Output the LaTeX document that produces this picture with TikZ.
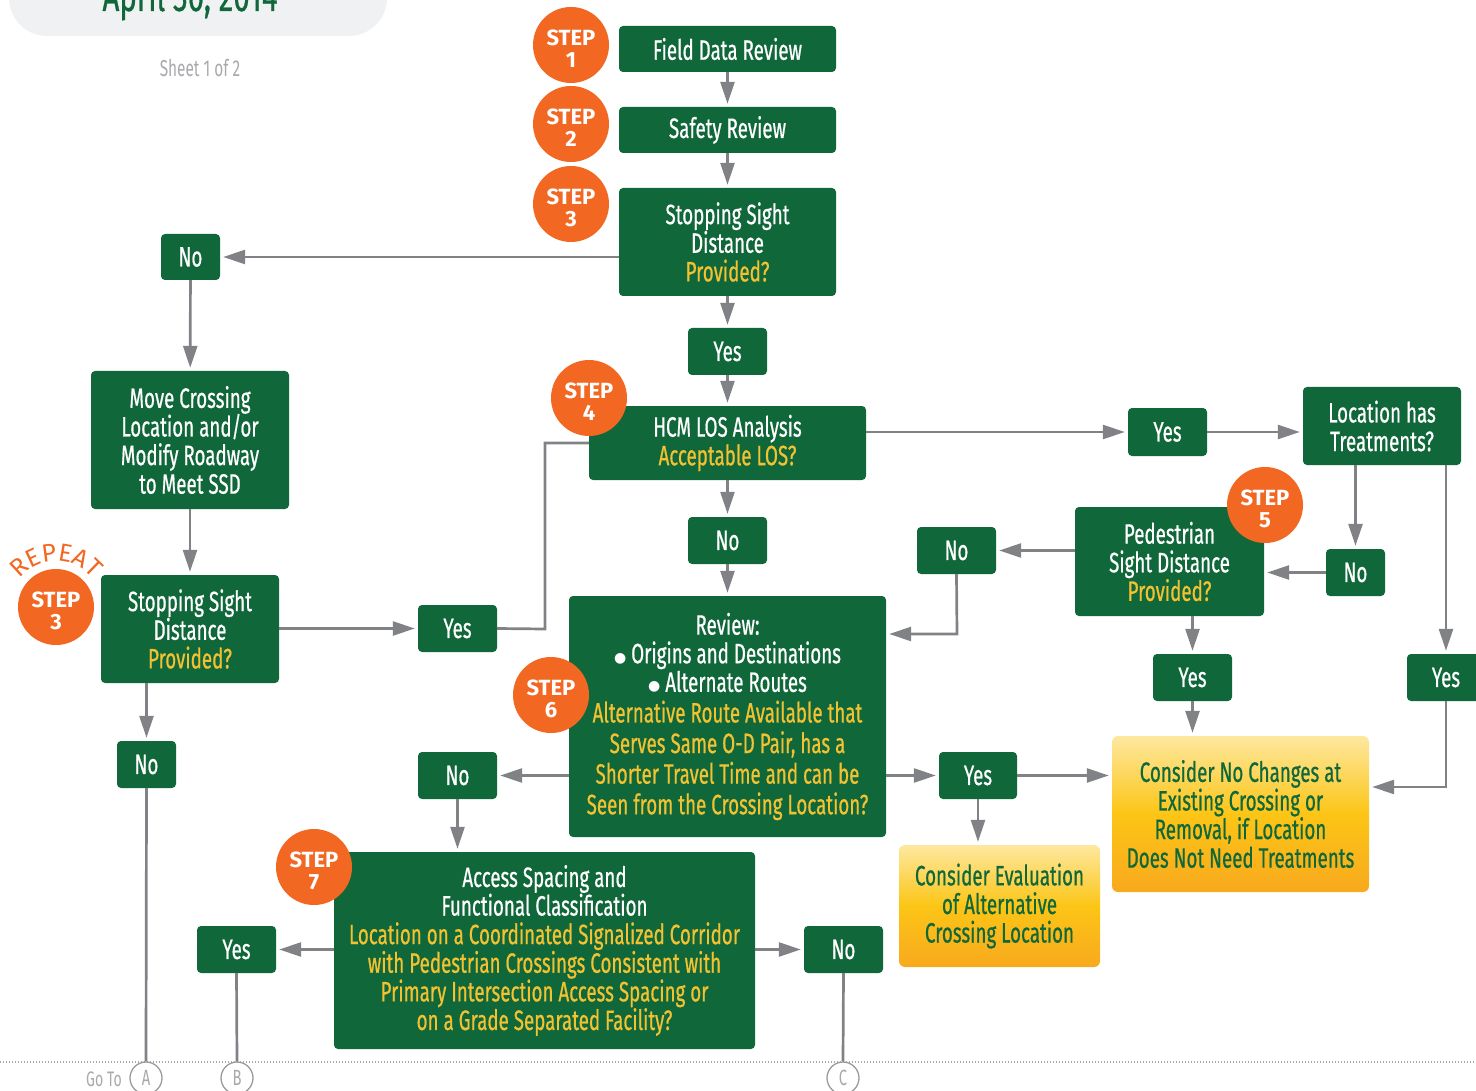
\documentclass[tikz,border=0pt]{standalone}
\usepackage{fontspec}
\setmainfont{Fira Sans}[FakeStretch=0.67, FakeBold=0.6]
\newfontfamily\stepfont{Fira Sans}
\newfontfamily\plainfont{Fira Sans}[FakeStretch=0.67]
\newfontfamily\dejavu{DejaVu Sans}
\usetikzlibrary{arrows.meta,shapes.geometric,decorations.text,calc}
\definecolor{dgreen}{HTML}{10673A}
\definecolor{orng}{HTML}{F26722}
\definecolor{ytext}{HTML}{F2C232}
\definecolor{arr}{HTML}{808285}
\definecolor{hdr}{HTML}{F0F1F3}
\definecolor{gtxt}{HTML}{A7A9AC}
\definecolor{ylight}{HTML}{FDE8A0}
\definecolor{ymid}{HTML}{FCC516}
\definecolor{ydark}{HTML}{F8A91E}
\newcommand\Y[1]{\textcolor{ytext}{#1}}
\newcommand\bt{\fontsize{28pt}{28.6pt}\selectfont}
\newcommand\bul{{\dejavu\fontsize{14pt}{0pt}\selectfont\raisebox{1pt}{●}}}
\newcommand\stepmark[3]{\node[stepc] (#1) at (#2) {}; \node[steptxt] (#1t) at ($(#2)+(0,-4)$) {STEP\\#3};}
\begin{document}
\begin{tikzpicture}[x=1pt,y=1pt,
 box/.style={fill=dgreen, rounded corners=4pt, text=white, align=center, font=\bt, inner sep=0pt},
 ybox/.style={top color=ylight, bottom color=ydark, middle color=ymid, rounded corners=6pt, text=dgreen, align=center, font=\bt, inner sep=0pt},
 stepc/.style={circle, fill=orng, minimum size=76pt, inner sep=0pt},
 steptxt/.style={inner sep=0pt, text=white, align=center, font=\stepfont\bfseries\fontsize{22pt}{22pt}\selectfont},
 arw/.style={draw=arr, line width=2.7pt, -{Triangle[length=22pt,width=14pt]}, shorten >=3pt},
 ln/.style={draw=arr, line width=2.7pt},
 goto/.style={circle, draw=arr!80, line width=1.3pt, minimum size=32pt, inner sep=0pt, text=gtxt, font=\plainfont\fontsize{22pt}{22pt}\selectfont}
]
\useasboundingbox (0,0) rectangle (1476,-1091);
\clip (0,0) rectangle (1476,-1091);
% header
\fill[hdr, rounded corners=38pt] (9,80) rectangle (387,-36);
\node[anchor=base, text=dgreen, font=\fontsize{44pt}{44pt}\selectfont, inner sep=0pt] (date) at (190,-11) {April 30, 2014};
\node[text=gtxt, font=\plainfont\fontsize{23pt}{23pt}\selectfont, inner sep=0pt] (sheet) at (200,-68) {Sheet 1 of 2};
% boxes
\node[box, minimum width=217pt, minimum height=46pt] (fdr) at (727.5,-49) {Field Data Review};
\node[box, minimum width=217pt, minimum height=46pt] (sr) at (727.5,-130) {Safety Review};
\node[box, minimum width=217pt, minimum height=108pt] (ssd1) at (727.5,-242) {Stopping Sight\\Distance\\\Y{Provided?}};
\node[box, minimum width=59pt, minimum height=46pt] (no1) at (190.5,-257) {No};
\node[box, minimum width=198pt, minimum height=138pt] (mv) at (190,-440) {Move Crossing\\Location and/or\\Modify Roadway\\to Meet SSD};
\node[box, minimum width=178pt, minimum height=108pt] (ssd2) at (190,-629) {Stopping Sight\\Distance\\\Y{Provided?}};
\node[box, minimum width=59pt, minimum height=47pt] (nlb) at (146.5,-764.5) {No};
\node[box, minimum width=79pt, minimum height=47pt] (yml) at (457.5,-628.5) {Yes};
\node[box, minimum width=79pt, minimum height=47pt] (y1) at (727.5,-351.5) {Yes};
\node[box, minimum width=277pt, minimum height=74pt] (hcm) at (727.5,-443) {HCM LOS Analysis\\\Y{Acceptable LOS?}};
\node[box, minimum width=79pt, minimum height=47pt] (nu) at (727.5,-540.5) {No};
\node[box, minimum width=317pt, minimum height=241pt] (rev) at (727.5,-716.5) {Review:\\\bul\ Origins and Destinations\\\bul\ Alternate Routes\\[2pt]\Y{Alternative Route Available that}\\[2pt]\Y{Serves Same O-D Pair, has a}\\[2pt]\Y{Shorter Travel Time and can be}\\[2pt]\Y{Seen from the Crossing Location?}};
\node[box, minimum width=79pt, minimum height=48pt] (yrt) at (1167.5,-432) {Yes};
\node[box, minimum width=158pt, minimum height=78pt] (loc) at (1382,-426) {Location has\\Treatments?};
\node[box, minimum width=189pt, minimum height=109pt] (ped) at (1169.5,-561.5) {Pedestrian\\Sight Distance\\\Y{Provided?}};
\node[box, minimum width=79pt, minimum height=47pt] (nol) at (956.5,-550.5) {No};
\node[box, minimum width=59pt, minimum height=47pt] (nr) at (1355.5,-572.5) {No};
\node[box, minimum width=79pt, minimum height=47pt] (yu) at (1192.5,-677.5) {Yes};
\node[box, minimum width=78pt, minimum height=47pt] (yfr) at (1446,-677.5) {Yes};
\node[ybox, minimum width=257pt, minimum height=156pt] (cnc) at (1240.5,-814) {Consider No Changes at\\Existing Crossing or\\Removal, if Location\\Does Not Need Treatments};
\node[box, minimum width=78pt, minimum height=47pt] (yr) at (978,-775.5) {Yes};
\node[ybox, minimum width=201pt, minimum height=122pt] (ce) at (999.5,-906) {Consider Evaluation\\of Alternative\\Crossing Location};
\node[box, minimum width=79pt, minimum height=47pt] (nlm) at (457.5,-775.5) {No};
\node[box, minimum width=421pt, minimum height=197pt] (acc) at (544.5,-950.5) {Access Spacing and\\Functional Classification\\\Y{Location on a Coordinated Signalized Corridor}\\\Y{with Pedestrian Crossings Consistent with}\\\Y{Primary Intersection Access Spacing or}\\\Y{on a Grade Separated Facility?}};
\node[box, minimum width=79pt, minimum height=47pt] (ybl) at (236.5,-949.5) {Yes};
\node[box, minimum width=79pt, minimum height=47pt] (nbr) at (843.5,-949.5) {No};
% step circles
\stepmark{s1}{571,-45}{1}
\stepmark{s2}{571,-124}{2}
\stepmark{s3}{571,-204}{3}
\stepmark{s3r}{56,-607}{3}
\stepmark{s4}{589,-398}{4}
\stepmark{s5}{1265,-505}{5}
\stepmark{s6}{551,-695}{6}
\stepmark{s7}{314,-867}{7}
\path[decorate, decoration={text along path, text align=center, text={|\stepfont\fontsize{25pt}{25pt}\selectfont\color{orng}|REPEAT}}] (s3r.center) ++(152:46) arc[start angle=152, end angle=28, radius=46];
% bottom line and go-to circles
\draw[gtxt, line width=1.2pt, dash pattern=on 1.2pt off 1.8pt] (0,-1062) -- (1476,-1062);
\node[goto] (A) at (146,-1078) {A};
\node[goto] (B) at (237,-1078) {B};
\node[goto] (C) at (843,-1078) {C};
\node[text=gtxt, font=\plainfont\fontsize{21pt}{21pt}\selectfont, inner sep=0pt] (goto) at (104,-1079) {Go To};
% connectors
\draw[arw] (fdr) -- (sr);
\draw[arw] (sr) -- (ssd1);
\draw[arw] (ssd1) -- (y1);
\draw[arw] (y1) -- (hcm);
\draw[arw] (ssd1.west |- no1) -- (no1.east);
\draw[arw] (no1) -- (mv);
\draw[arw] (mv) -- (ssd2);
\draw[arw] (ssd2.east |- yml) -- (yml.west);
\coordinate (j1) at (545,-629);
\draw[ln] (yml.east) -- (j1) |- (hcm.west);
\draw[arw] (nlb.north |- ssd2.south) -- (nlb.north);
\draw[ln] (nlb.south) -- (A.north);
\draw[arw] (hcm) -- (nu);
\draw[arw] (nu) -- (rev);
\draw[arw] (hcm.east |- yrt) -- (yrt.west);
\draw[arw] (yrt.east) -- (yrt.east -| loc.west);
\draw[arw] (nr.north |- loc.south) -- (nr.north);
\draw[arw] (nr.west) -- (nr.west -| ped.east);
\draw[arw] (ped.west |- nol) -- (nol.east);
\coordinate (k1) at (957,-634);
\draw[arw] (nol.south) -- (k1) -- (k1 -| rev.east);
\draw[arw] (yu.north |- ped.south) -- (yu.north);
\draw[arw] (yu.south) -- (yu.south |- cnc.north);
\draw[arw] (yfr.north |- loc.south) -- (yfr.north);
\coordinate (m1) at (1446,-787);
\draw[arw] (yfr.south) -- (m1) -- (m1 -| cnc.east);
\draw[arw] (rev.east |- yr) -- (yr.west);
\draw[arw] (yr.east) -- (yr.east -| cnc.west);
\draw[arw] (yr.south) -- (yr.south |- ce.north);
\draw[arw] (rev.west |- nlm) -- (nlm.east);
\draw[arw] (nlm.south) -- (nlm.south |- acc.north);
\draw[arw] (acc.west |- ybl) -- (ybl.east);
\draw[arw] (acc.east |- nbr) -- (nbr.west);
\draw[ln] (ybl.south) -- (B.north);
\draw[ln] (nbr.south) -- (C.north);
\end{tikzpicture}
\end{document}
